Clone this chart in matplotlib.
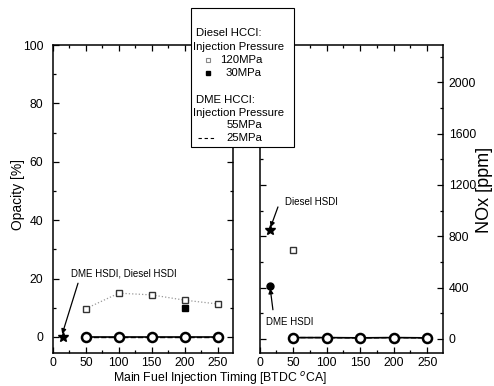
import matplotlib
matplotlib.use("Agg")
import matplotlib.pyplot as plt
from matplotlib.lines import Line2D
from matplotlib.patches import Rectangle
from matplotlib.ticker import MultipleLocator

plt.rcParams['font.family'] = ['Liberation Sans', 'DejaVu Sans']

# ---- data ----
timing_hcci = [50, 100, 150, 200, 250]
timing_hsdi = [15]

# Opacity [%]
op_dme_55 = [0, 0, 0, 0, 0]
op_dme_25 = [0, 0, 0, 0, 0]
op_diesel_120 = [9.7, 15.0, 14.4, 12.6, 11.3]
op_diesel_30_x = [200]
op_diesel_30 = [9.8]
op_hsdi = [0]

# NOx [ppm]
nox_dme_55 = [10, 10, 8, 10, 8]
nox_dme_25 = [10, 10, 8, 10, 8]
nox_diesel_120_x = [50]
nox_diesel_120 = [690]
nox_diesel_hsdi = [850]
nox_dme_hsdi = [412]

xticks = [0, 50, 100, 150, 200, 250]
op_ticks = [0, 20, 40, 60, 80, 100]
nox_ticks = [0, 400, 800, 1200, 1600, 2000]

W, H = 494, 386
fig = plt.figure(figsize=(W / 100, H / 100), dpi=100)

def fx(px):
    return px / W

def fy(py):
    return 1 - py / H

ax1 = fig.add_axes([fx(53), fy(353), fx(233.3 - 53), fy(45) - fy(353)])
ax2 = fig.add_axes([fx(259.5), fy(353), fx(443.3 - 259.5), fy(45) - fy(353)])

for ax in (ax1, ax2):
    ax.set_xlim(0, 274)
    ax.set_xticks(xticks)
    ax.xaxis.set_minor_locator(MultipleLocator(25))
    ax.tick_params(which='both', direction='in', top=True, bottom=True,
                   left=True, right=True, width=0.9, labelsize=8.8)
    ax.tick_params(which='major', length=4)
    ax.tick_params(which='minor', length=2)
    ax.tick_params(axis='x', pad=3)
    for s in ax.spines.values():
        s.set_linewidth(1.1)

arrow_kw = dict(arrowstyle='-|>', color='black', lw=0.9,
                mutation_scale=7, shrinkA=0, shrinkB=0)

# left panel: opacity
ax1.set_ylim(-5.5, 100)
ax1.set_yticks(op_ticks)
ax1.yaxis.set_minor_locator(MultipleLocator(10))
ax1.tick_params(axis='y', pad=7)
ax1.plot(timing_hcci, op_dme_25, ls='--', color='black', lw=1.0)
ax1.plot(timing_hcci, op_dme_55, ls='-', color='black', lw=1.2,
         marker='o', ms=6.5, mfc='white', mec='black', mew=1.8)
ax1.plot(timing_hcci, op_diesel_120, ls=':', color='#999999', lw=0.9,
         marker='s', ms=4.5, mfc='white', mec='#333333', mew=1.0)
ax1.plot(op_diesel_30_x, op_diesel_30, ls='none', marker='s', ms=5,
         color='black')
ax1.plot(timing_hsdi, op_hsdi, ls='none', marker='*', ms=7, color='black')
ax1.text(27, 21.6, 'DME HSDI, Diesel HSDI', fontsize=7, ha='left',
         va='center')
ax1.annotate('', xy=(timing_hsdi[0] - 1, op_hsdi[0] + 1), xytext=(38, 18.4),
             arrowprops=arrow_kw)

# right panel: NOx
ax2.set_ylim(-110, 2290)
ax2.set_yticks(nox_ticks)
ax2.yaxis.set_minor_locator(MultipleLocator(200))
ax2.tick_params(axis='y', labelleft=False, labelright=True, pad=4)
ax2.plot(timing_hcci, nox_dme_25, ls='--', color='black', lw=1.0)
ax2.plot(timing_hcci, nox_dme_55, ls='-', color='black', lw=1.2,
         marker='o', ms=6.5, mfc='white', mec='black', mew=1.8)
ax2.plot(nox_diesel_120_x, nox_diesel_120, ls='none', marker='s', ms=4.5,
         mfc='white', mec='#333333', mew=1.0)
ax2.plot(timing_hsdi, nox_diesel_hsdi, ls='none', marker='*', ms=7,
         color='black')
ax2.plot(timing_hsdi, nox_dme_hsdi, ls='none', marker='o', ms=5,
         color='black')
ax2.text(38.5, 1067, 'Diesel HSDI', fontsize=7, ha='left', va='center')
ax2.annotate('', xy=(timing_hsdi[0] + 1.5, nox_diesel_hsdi[0] + 20),
             xytext=(27.5, 1028), arrowprops=arrow_kw)
ax2.text(9, 129, 'DME HSDI', fontsize=7, ha='left', va='center')
ax2.annotate('', xy=(timing_hsdi[0] + 1, nox_dme_hsdi[0] - 20),
             xytext=(20, 227), arrowprops=arrow_kw)

# axis labels
fig.text(fx(18), fy(195), 'Opacity [%]', rotation=90, ha='center',
         va='center', fontsize=10)
fig.text(fx(484), fy(190), 'NOx [ppm]', rotation=90, ha='center',
         va='center', fontsize=13)
fig.text(fx(220), fy(378), 'Main Fuel Injection Timing [BTDC $^{o}$CA]',
         ha='center', va='center', fontsize=8.8)

# legend box (drawn manually)
fig.patches.append(Rectangle((fx(191), fy(147)), fx(294) - fx(191),
                             fy(8) - fy(147), transform=fig.transFigure,
                             facecolor='white', edgecolor='black', lw=0.8,
                             zorder=10))
lfs = 8.2
def ltext(x, y, s, ha='left'):
    fig.text(fx(x), fy(y), s, fontsize=lfs, ha=ha, va='center', zorder=11)

ltext(196, 33, 'Diesel HCCI:')
ltext(193, 47, 'Injection Pressure')
ltext(262, 60, '120MPa', ha='right')
ltext(262, 73, '30MPa', ha='right')
ltext(196, 100, 'DME HCCI:')
ltext(193, 113, 'Injection Pressure')
ltext(262, 125, '55MPa', ha='right')
ltext(262, 138, '25MPa', ha='right')

fig.lines.append(Line2D([fx(208)], [fy(60)], transform=fig.transFigure,
                        marker='s', ms=2.5, mfc='white', mec='#888888',
                        mew=0.8, ls='none', zorder=11))
fig.lines.append(Line2D([fx(208)], [fy(73)], transform=fig.transFigure,
                        marker='s', ms=3, color='black', ls='none',
                        zorder=11))
fig.lines.append(Line2D([fx(198), fx(216)], [fy(138), fy(138)],
                        transform=fig.transFigure, ls='--', color='black',
                        lw=0.8, dashes=(3, 2.5), zorder=11))

fig.savefig('out.png', dpi=100)
